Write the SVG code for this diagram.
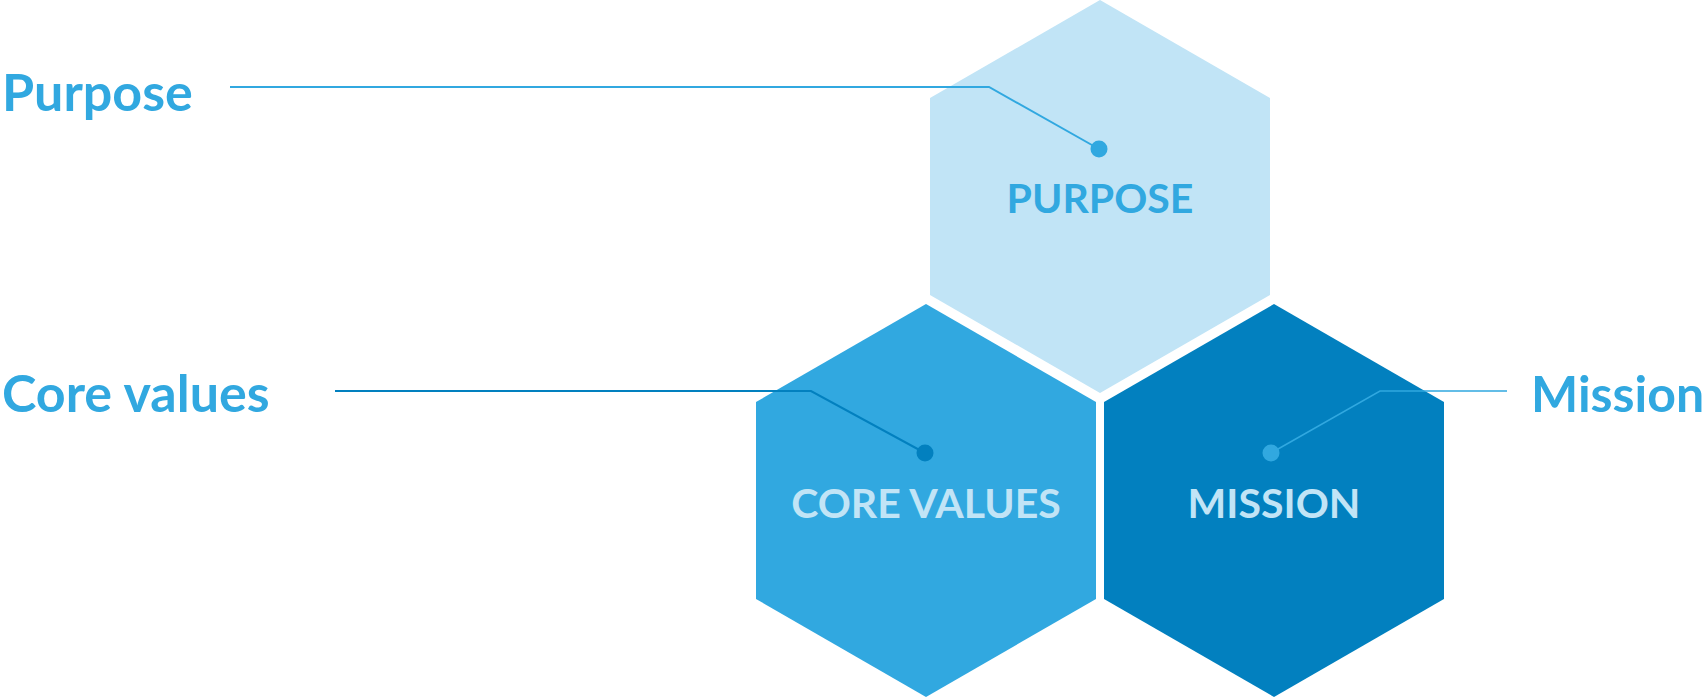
<svg xmlns="http://www.w3.org/2000/svg" width="1708" height="698" viewBox="0 0 1708 698">
<style>
.lbl{font-family:Lato,"Noto Sans","Liberation Sans",sans-serif;font-weight:700;fill:#31a8e0;font-size:52px}
.in{font-family:Lato,"Noto Sans","Liberation Sans",sans-serif;font-weight:700;text-anchor:middle;font-size:41px}
.ln{fill:none;stroke-linejoin:miter}
</style>
<rect width="1708" height="698" fill="#ffffff"/>
<g id="purpose">
<polygon points="1100,0 1270,98 1270,295 1100,393 930,295 930,98" fill="#c1e4f6"/>
<text class="in" x="1100" y="213" fill="#31a8e0">PURPOSE</text>
</g>
<g id="core-values">
<polygon points="926,304 1096,402 1096,599 926,697 756,599 756,402" fill="#31a8e0"/>
<text class="in" x="926" y="518" fill="#c1e4f6">CORE VALUES</text>
</g>
<g id="mission">
<polygon points="1274,304 1444,402 1444,599 1274,697 1104,599 1104,402" fill="#0280bf"/>
<text class="in" x="1274" y="518" fill="#c1e4f6">MISSION</text>
</g>
<g id="label-purpose"><text class="lbl" x="2" y="111">Purpose</text></g>
<g id="label-core-values"><text class="lbl" x="2" y="412">Core values</text></g>
<g id="label-mission"><text class="lbl" x="1531" y="412" style="font-size:50px">Mission</text></g>
<g id="connectors">
<polyline class="ln" points="230,87 989,87 1099,149" stroke="#31a8e0" stroke-width="2"/>
<circle cx="1099" cy="149" r="8.5" fill="#31a8e0"/>
<polyline class="ln" points="335,391 811,391 925,453" stroke="#0280bf" stroke-width="2"/>
<circle cx="925" cy="453" r="8.5" fill="#0280bf"/>
<polyline class="ln" points="1507,391 1380,391 1271,453" stroke="#31a8e0" stroke-width="1.5"/>
<circle cx="1271" cy="453" r="8.5" fill="#31a8e0"/>
</g>
</svg>
